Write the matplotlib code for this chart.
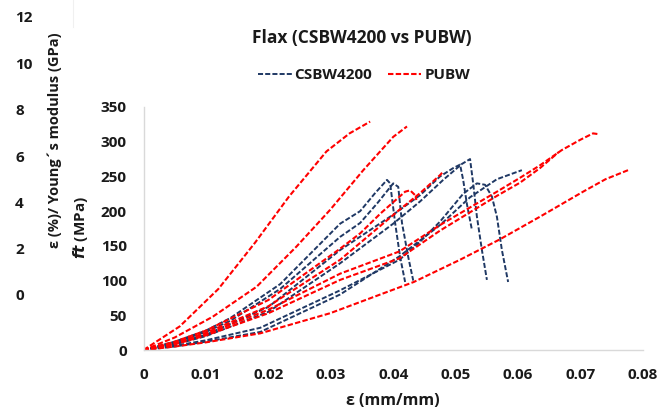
import matplotlib
matplotlib.use("Agg")
import matplotlib.pyplot as plt
from matplotlib.lines import Line2D

plt.rcParams['font.family'] = ['Open Sans', 'DejaVu Sans']
plt.rcParams['font.weight'] = 'bold'

# ---- data (strain mm/mm, stress MPa) ----
csbw_A_x = [0, 0.005, 0.01, 0.0139, 0.0219, 0.0315, 0.0347, 0.037, 0.039, 0.0395, 0.0403, 0.0411, 0.0419]
csbw_A_y = [0, 12, 28, 46, 95, 182, 200, 225, 245, 240, 183, 134, 98]
csbw_B_x = [0, 0.005, 0.01, 0.0139, 0.0219, 0.0315, 0.0347, 0.0375, 0.040, 0.0408, 0.0414, 0.0424, 0.0432]
csbw_B_y = [0, 11, 26, 42, 88, 163, 183, 212, 240, 235, 183, 134, 100]
csbw_C_x = [0, 0.005, 0.01, 0.02, 0.0315, 0.04, 0.0443, 0.0475, 0.0496, 0.0507, 0.0512, 0.0518, 0.0526]
csbw_C_y = [0, 9, 22, 62, 144, 195, 223, 250, 262, 267, 245, 210, 173]
csbw_D_x = [0, 0.005, 0.01, 0.02, 0.0315, 0.04, 0.0443, 0.048, 0.051, 0.0523, 0.0528, 0.0534, 0.0542, 0.055]
csbw_D_y = [0, 8, 20, 55, 125, 182, 214, 245, 268, 275, 240, 192, 144, 101]
csbw_E_x = [0, 0.005, 0.01, 0.0187, 0.0315, 0.041, 0.0443, 0.0475, 0.0512, 0.0534, 0.0547, 0.0558, 0.0566, 0.0574, 0.0584]
csbw_E_y = [0, 6, 14, 32, 86, 130, 156, 185, 225, 240, 238, 221, 192, 144, 98]
csbw_F_x = [0, 0.005, 0.01, 0.0187, 0.0315, 0.041, 0.0475, 0.0523, 0.0566, 0.0606]
csbw_F_y = [0, 5, 12, 26, 80, 135, 180, 220, 246, 259]

pubw_1_x = [0, 0.0058, 0.012, 0.0179, 0.0233, 0.0293, 0.033, 0.0363]
pubw_1_y = [0, 34, 88, 155, 221, 286, 312, 329]
pubw_2_x = [0, 0.005, 0.0111, 0.0181, 0.0245, 0.0299, 0.0352, 0.040, 0.0422]
pubw_2_y = [0, 18, 48, 91, 149, 202, 259, 307, 322]
pubw_3_x = [0, 0.005, 0.01, 0.02, 0.0315, 0.0347, 0.038, 0.0419, 0.0427, 0.0435, 0.0437]
pubw_3_y = [0, 12, 28, 72, 146, 168, 197, 228, 230, 223, 216]
pubw_4_x = [0, 0.005, 0.01, 0.02, 0.0315, 0.041, 0.0443, 0.0475, 0.048]
pubw_4_y = [0, 10, 25, 63, 130, 202, 226, 252, 257]
pubw_5_x = [0, 0.005, 0.01, 0.02, 0.0315, 0.041, 0.0475, 0.0566, 0.0603, 0.0635, 0.067, 0.070, 0.072, 0.0728]
pubw_5_y = [0, 9, 23, 58, 110, 142, 180, 228, 248, 266, 288, 303, 312, 311]
pubw_6_x = [0, 0.005, 0.01, 0.02, 0.0315, 0.041, 0.0475, 0.0566, 0.0603, 0.0635, 0.0665]
pubw_6_y = [0, 8, 21, 53, 101, 132, 172, 222, 241, 262, 285]
pubw_7_x = [0, 0.005, 0.01, 0.0187, 0.0299, 0.0433, 0.0507, 0.057, 0.0635, 0.0704, 0.074, 0.0776]
pubw_7_y = [0, 5, 11, 24, 53, 98, 130, 159, 192, 228, 246, 259]

csbw_series = [(csbw_A_x, csbw_A_y), (csbw_B_x, csbw_B_y), (csbw_C_x, csbw_C_y),
               (csbw_D_x, csbw_D_y), (csbw_E_x, csbw_E_y), (csbw_F_x, csbw_F_y)]
pubw_series = [(pubw_1_x, pubw_1_y), (pubw_2_x, pubw_2_y), (pubw_3_x, pubw_3_y),
               (pubw_4_x, pubw_4_y), (pubw_5_x, pubw_5_y), (pubw_6_x, pubw_6_y),
               (pubw_7_x, pubw_7_y)]

x_ticks = [0, 0.01, 0.02, 0.03, 0.04, 0.05, 0.06, 0.07, 0.08]
x_ticklabels = ["0", "0.01", "0.02", "0.03", "0.04", "0.05", "0.06", "0.07", "0.08"]
y_ticks = [0, 50, 100, 150, 200, 250, 300, 350]
y2_ticks = [0, 2, 4, 6, 8, 10, 12]

BLUE = "#1F3864"
RED = "#FF0000"
GRAY = "#D9D9D9"
TXT = "#1a1a1a"
FS = 11
W, H = 666, 412

fig = plt.figure(figsize=(W / 100, H / 100), dpi=100)

# main axes
ax = fig.add_axes([143.5 / W, 1 - 350 / H, (643 - 143.5) / W, (350 - 107) / H])
dash = (0, (2.6, 1.1))
for i, (xs, ys) in enumerate(csbw_series):
    ax.plot(xs, ys, color=BLUE, lw=1.4, linestyle=dash,
            label="CSBW4200" if i == 0 else None)
for i, (xs, ys) in enumerate(pubw_series):
    ax.plot(xs, ys, color=RED, lw=1.5, linestyle=dash,
            label="PUBW" if i == 0 else None)

ax.set_xlim(0, 0.08)
ax.set_ylim(0, 350)
ax.set_xticks(x_ticks)
ax.set_xticklabels(x_ticklabels)
ax.set_yticks(y_ticks)
for s in ["top", "right"]:
    ax.spines[s].set_visible(False)
for s in ["left", "bottom"]:
    ax.spines[s].set_color(GRAY)
    ax.spines[s].set_linewidth(1.0)
ax.tick_params(axis="both", length=0, labelsize=FS)
ax.tick_params(axis="y", pad=12)
ax.tick_params(axis="x", pad=13)
for lab in ax.get_xticklabels() + ax.get_yticklabels():
    lab.set_fontweight("bold")
    lab.set_color(TXT)

ax.set_xlabel("ε (mm/mm)", fontsize=11.5, fontweight="bold", color=TXT)
ax.xaxis.set_label_coords(0.5, -0.175)

fig.text(80 / W, 1 - 228 / H, "$ft$ (MPa)", rotation=90, ha="center", va="center",
         fontsize=FS, fontweight="bold", color=TXT)

# secondary (left) scale
ax2 = fig.add_axes([40 / W, 1 - 295 / H, 0.001, (295 - 17) / H])
ax2.set_ylim(0, 12)
ax2.set_yticks(y2_ticks)
ax2.set_xticks([])
for s in ax2.spines.values():
    s.set_visible(False)
ax2.patch.set_alpha(0)
ax2.tick_params(axis="y", length=0, pad=18, labelsize=FS)
for lab in ax2.get_yticklabels():
    lab.set_horizontalalignment("left")
    lab.set_fontweight("bold")
    lab.set_color(TXT)

fig.text(55 / W, 1 - 140 / H, "ε (%)/ Young´s modulus (GPa)", rotation=90,
         ha="center", va="center", fontsize=10.5, fontweight="bold", color=TXT)

# faint leftover line at top
fig.add_artist(Line2D([73 / W, 73 / W], [1, 1 - 27 / H], color="#F0F0F0", lw=0.8))

# title
fig.text(362 / W, 1 - 38 / H, "Flax (CSBW4200 vs PUBW)", ha="center", va="center",
         fontsize=12.5, fontweight="bold", color=TXT)

# legend
leg = ax.legend(loc="center", bbox_to_anchor=(364 / W, 1 - 75 / H),
                bbox_transform=fig.transFigure, ncol=2, frameon=False,
                handlelength=2.2, handletextpad=0.2, columnspacing=1.0,
                prop={"weight": "bold", "size": FS})
for t in leg.get_texts():
    t.set_color(TXT)

fig.savefig("out.png", dpi=100)
